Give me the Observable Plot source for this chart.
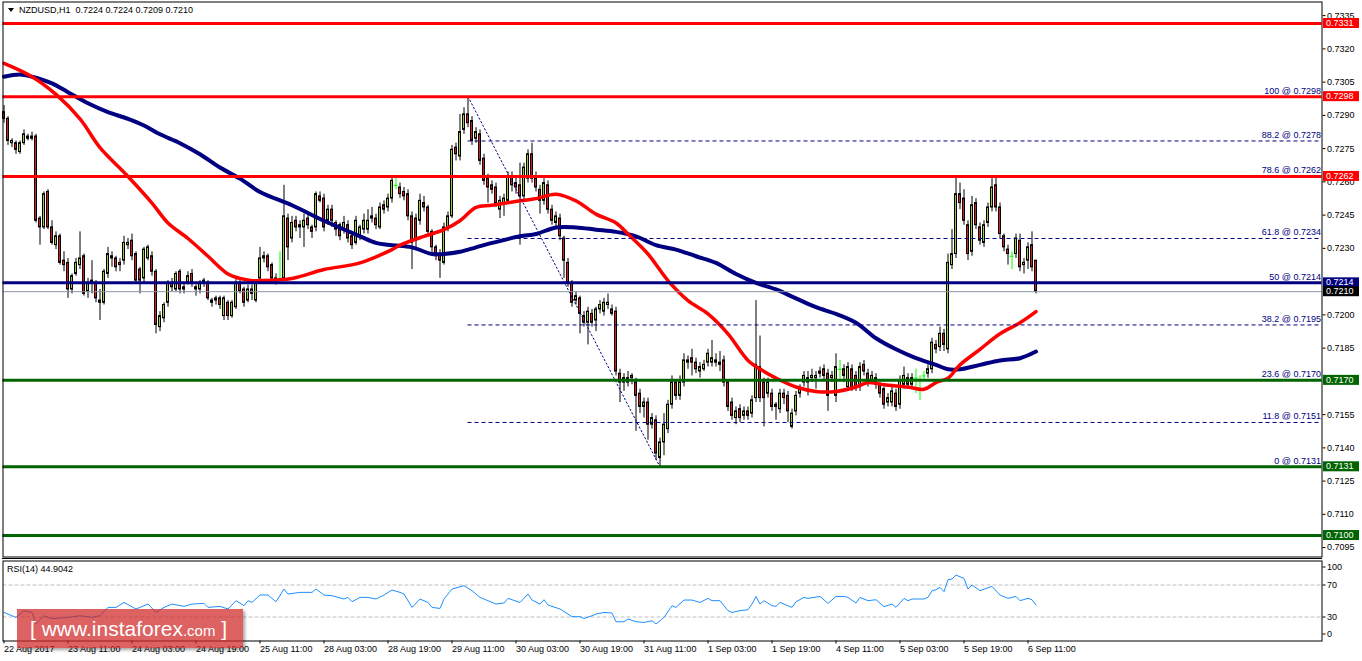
<!DOCTYPE html>
<html><head><meta charset="utf-8">
<script src="https://cdn.jsdelivr.net/npm/d3@7"></script>
<script src="https://cdn.jsdelivr.net/npm/@observablehq/plot@0.6"></script>
<style>
html,body{margin:0;padding:0;background:#fff;}
#wrap{position:relative;width:1362px;height:661px;overflow:hidden;font-family:"Liberation Sans",Arial,sans-serif;}
#main{position:absolute;left:0;top:0;}
#rsi{position:absolute;left:0;top:558px;}
#sep{position:absolute;left:2px;top:558px;width:1320px;height:1px;background:#000;}
#title{position:absolute;left:8px;top:5px;font-size:9px;line-height:11px;color:#000;white-space:pre;}
#title .tri{display:inline-block;width:0;height:0;border-left:3px solid transparent;border-right:3px solid transparent;border-top:4px solid #000;margin-right:5px;vertical-align:1px;}
#rsilab{position:absolute;left:7px;top:564px;font-size:9px;line-height:11px;color:#000;}
#wm{position:absolute;left:17px;top:609px;width:226px;height:39px;background:rgba(208,38,38,0.72);box-shadow:2px 2px 3px rgba(0,0,0,0.35);color:#fff;line-height:39px;white-space:nowrap;padding-left:13px;box-sizing:border-box;}
#wm .b{font-size:21px;}
#wm .m{font-size:21px;}
#wm .c{font-size:15px;}
</style></head><body>
<div id="wrap">
<div id="main"></div>
<div id="rsi"></div>
<div id="sep"></div>
<div id="title"><span class="tri"></span>NZDUSD,H1  0.7224 0.7224 0.7209 0.7210</div>
<div id="rsilab">RSI(14) 44.9042</div>
<div id="wm"><span class="b">[ </span><span class="m">www.instaforex</span><span class="c">.com</span><span class="b"> ]</span></div>
</div>
<script>
// ---- hourly candles (bar index 0 = 22 Aug 19:00) ----
const O = [
.7291,.7288,.7277,.7277,.7273,.7277,.7280,.7279,.7280,.7243,
.7239,.7255,.7239,.7231,.7235,.7224,.7223,.7211,.7218,.7222,
.7226,.7210,.7215,.7214,.7206,.7205,.7218,.7225,.7225,.7223,
.7224,.7231,.7233,.7227,.7220,.7216,.7225,.7226,.7219,.7194,
.7198,.7205,.7214,.7211,.7219,.7211,.7214,.7218,.7212,.7211,
.7215,.7214,.7206,.7206,.7207,.7199,.7205,.7199,.7203,.7214,
.7211,.7206,.7211,.7206,.7216,.7226,.7226,.7222,.7216,.7216,
.7216,.7243,.7234,.7242,.7239,.7239,.7243,.7239,.7239,.7253,
.7252,.7242,.7247,.7241,.7240,.7238,.7240,.7235,.7232,.7235,
.7238,.7238,.7243,.7243,.7239,.7249,.7248,.7252,.7258,.7257,
.7255,.7254,.7244,.7243,.7242,.7250,.7248,.7237,.7230,.7227,
.7223,.7239,.7244,.7275,.7271,.7283,.7290,.7287,.7279,.7281,
.7270,.7261,.7258,.7257,.7247,.7250,.7251,.7262,.7259,.7258,
.7253,.7261,.7272,.7261,.7256,.7251,.7258,.7247,.7241,.7243,
.7234,.7223,.7214,.7206,.7207,.7199,.7196,.7200,.7197,.7202,
.7201,.7204,.7202,.7201,.7173,.7171,.7169,.7172,.7169,.7164,
.7158,.7160,.7150,.7152,.7135,.7142,.7148,.7159,.7169,.7163,
.7169,.7178,.7180,.7178,.7174,.7175,.7178,.7178,.7179,.7178,
.7179,.7169,.7160,.7153,.7157,.7154,.7156,.7155,.7162,.7176,
.7169,.7164,.7164,.7159,.7157,.7164,.7163,.7149,.7156,.7164,
.7169,.7171,.7171,.7171,.7173,.7175,.7173,.7171,.7163,.7175,
.7175,.7167,.7175,.7172,.7167,.7177,.7173,.7170,.7171,.7168,
.7166,.7160,.7160,.7164,.7159,.7168,.7171,.7168,.7171,.7170,
.7172,.7173,.7175,.7186,.7185,.7191,.7184,.7222,.7227,.7254,
.7252,.7240,.7228,.7250,.7239,.7232,.7241,.7248,.7258,.7248,
.7235,.7229,.7226,.7227,.7233,.7222,.7224,.7231,.7224];
const H = [
.7294,.7289,.7279,.7278,.7278,.7283,.7281,.7282,.7281,.7244,
.7255,.7256,.7242,.7237,.7236,.7228,.7225,.7218,.7225,.7237,
.7227,.7216,.7224,.7215,.7211,.7220,.7230,.7228,.7226,.7225,
.7235,.7234,.7236,.7228,.7221,.7230,.7231,.7228,.7220,.7201,
.7205,.7215,.7216,.7219,.7220,.7214,.7219,.7220,.7213,.7215,
.7216,.7215,.7207,.7208,.7208,.7208,.7206,.7206,.7216,.7216,
.7212,.7213,.7213,.7215,.7230,.7228,.7227,.7223,.7218,.7228,
.7258,.7245,.7244,.7244,.7242,.7245,.7246,.7240,.7255,.7255,
.7254,.7249,.7249,.7242,.7241,.7244,.7242,.7236,.7244,.7240,
.7245,.7247,.7248,.7245,.7250,.7251,.7254,.7262,.7261,.7259,
.7257,.7256,.7246,.7245,.7254,.7253,.7249,.7238,.7231,.7229,
.7241,.7246,.7276,.7277,.7290,.7293,.7298,.7289,.7284,.7283,
.7272,.7263,.7260,.7259,.7253,.7254,.7264,.7264,.7262,.7268,
.7268,.7274,.7277,.7264,.7258,.7261,.7260,.7249,.7246,.7245,
.7235,.7225,.7215,.7210,.7208,.7201,.7203,.7202,.7203,.7206,
.7207,.7209,.7204,.7203,.7175,.7173,.7174,.7173,.7171,.7166,
.7162,.7162,.7155,.7154,.7144,.7155,.7161,.7172,.7170,.7172,
.7182,.7181,.7184,.7180,.7178,.7179,.7184,.7188,.7182,.7183,
.7181,.7170,.7162,.7158,.7159,.7158,.7158,.7163,.7206,.7190,
.7171,.7171,.7166,.7160,.7166,.7166,.7165,.7157,.7165,.7168,
.7174,.7174,.7175,.7174,.7176,.7177,.7175,.7174,.7182,.7179,
.7177,.7178,.7177,.7174,.7178,.7179,.7175,.7174,.7173,.7169,
.7167,.7164,.7167,.7166,.7172,.7176,.7173,.7173,.7175,.7172,
.7174,.7177,.7189,.7188,.7194,.7193,.7227,.7238,.7262,.7259,
.7256,.7242,.7253,.7252,.7241,.7242,.7250,.7261,.7262,.7250,
.7236,.7231,.7228,.7236,.7236,.7225,.7232,.7237,.7224];
const L = [
.7286,.7276,.7275,.7272,.7272,.7276,.7278,.7278,.7241,.7231,
.7238,.7238,.7231,.7229,.7222,.7219,.7207,.7209,.7217,.7220,
.7208,.7207,.7209,.7205,.7197,.7204,.7216,.7221,.7219,.7219,
.7222,.7229,.7224,.7214,.7209,.7214,.7224,.7217,.7191,.7192,
.7196,.7203,.7210,.7210,.7209,.7209,.7213,.7212,.7208,.7209,
.7212,.7206,.7203,.7204,.7202,.7197,.7197,.7198,.7202,.7209,
.7203,.7205,.7206,.7205,.7214,.7223,.7219,.7215,.7213,.7214,
.7215,.7224,.7232,.7237,.7234,.7230,.7238,.7234,.7237,.7250,
.7237,.7240,.7239,.7235,.7233,.7236,.7232,.7229,.7231,.7233,
.7236,.7236,.7241,.7238,.7238,.7245,.7246,.7250,.7256,.7252,
.7251,.7242,.7220,.7230,.7240,.7246,.7235,.7227,.7224,.7216,
.7222,.7237,.7243,.7269,.7269,.7281,.7284,.7276,.7277,.7267,
.7258,.7250,.7254,.7248,.7243,.7244,.7250,.7255,.7254,.7231,
.7251,.7259,.7259,.7255,.7245,.7249,.7245,.7240,.7239,.7233,
.7216,.7212,.7203,.7204,.7191,.7194,.7186,.7194,.7192,.7200,
.7199,.7202,.7199,.7172,.7160,.7165,.7167,.7168,.7147,.7155,
.7153,.7143,.7148,.7134,.7131,.7136,.7146,.7157,.7161,.7161,
.7167,.7175,.7172,.7173,.7171,.7174,.7176,.7176,.7176,.7174,
.7167,.7156,.7152,.7150,.7151,.7152,.7152,.7153,.7160,.7160,
.7149,.7162,.7156,.7152,.7155,.7159,.7151,.7148,.7154,.7162,
.7167,.7163,.7169,.7166,.7171,.7170,.7156,.7169,.7160,.7170,
.7169,.7165,.7165,.7165,.7165,.7172,.7167,.7168,.7166,.7162,
.7157,.7158,.7158,.7156,.7157,.7166,.7166,.7166,.7164,.7161,
.7170,.7171,.7173,.7182,.7183,.7183,.7182,.7220,.7225,.7247,
.7240,.7224,.7226,.7238,.7231,.7230,.7239,.7246,.7246,.7234,
.7228,.7222,.7220,.7225,.7219,.7218,.7220,.7219,.7209];
const C = [
.7288,.7278,.7278,.7274,.7277,.7281,.7279,.7280,.7242,.7239,
.7254,.7239,.7232,.7235,.7223,.7222,.7211,.7217,.7223,.7225,
.7209,.7214,.7214,.7207,.7205,.7219,.7227,.7226,.7221,.7222,
.7232,.7232,.7226,.7215,.7215,.7229,.7230,.7219,.7195,.7199,
.7204,.7214,.7212,.7218,.7211,.7212,.7217,.7214,.7211,.7214,
.7214,.7207,.7205,.7207,.7204,.7207,.7199,.7205,.7214,.7210,
.7205,.7211,.7209,.7214,.7225,.7225,.7221,.7216,.7215,.7216,
.7244,.7230,.7241,.7239,.7240,.7242,.7240,.7237,.7254,.7251,
.7239,.7247,.7242,.7238,.7235,.7241,.7234,.7231,.7242,.7239,
.7242,.7242,.7244,.7240,.7248,.7247,.7252,.7260,.7258,.7254,
.7253,.7244,.7232,.7233,.7251,.7248,.7237,.7230,.7226,.7224,
.7239,.7244,.7274,.7272,.7282,.7290,.7286,.7278,.7282,.7269,
.7260,.7257,.7256,.7250,.7251,.7252,.7262,.7258,.7257,.7253,
.7266,.7272,.7261,.7257,.7251,.7259,.7247,.7242,.7244,.7235,
.7224,.7214,.7205,.7208,.7200,.7196,.7201,.7196,.7202,.7204,
.7205,.7205,.7200,.7174,.7169,.7169,.7171,.7171,.7163,.7158,
.7160,.7150,.7153,.7137,.7142,.7150,.7159,.7169,.7163,.7169,
.7179,.7179,.7178,.7175,.7176,.7177,.7182,.7180,.7178,.7177,
.7169,.7158,.7154,.7156,.7153,.7156,.7154,.7161,.7177,.7162,
.7162,.7169,.7158,.7158,.7164,.7162,.7156,.7155,.7163,.7166,
.7172,.7169,.7172,.7172,.7174,.7172,.7163,.7172,.7176,.7175,
.7172,.7176,.7167,.7167,.7176,.7174,.7169,.7172,.7168,.7164,
.7159,.7162,.7165,.7158,.7170,.7172,.7168,.7171,.7171,.7170,
.7172,.7175,.7187,.7184,.7191,.7186,.7223,.7227,.7254,.7250,
.7242,.7227,.7249,.7240,.7233,.7240,.7248,.7257,.7248,.7236,
.7230,.7227,.7226,.7234,.7221,.7223,.7230,.7221,.7210];

// ---- moving averages (read at sample bars) ----
const maRedIdx = [0,7,13,19,24,31,37,41,46,51,56,59,62,64,72,80,89,97,99,105,110,114,118,122,129,133,138,143,148,153,156,161,166,171,176,181,186,190,193,198,203,208,213,216,220,226,230,233,236,239,244,249,254,258];
const maRedVal = [.7313,.7307,.7299,.7288,.7275,.7262,.7250,.7241,.7234,.7226,.7218,.7216,.7215,.7215,.7216,.7220,.7223,.7229,.7231,.7235,.7238,.7242,.7248,.7249,.7251,.7252,.7254,.7251,.7245,.7241,.7236,.7227,.7215,.7206,.7200,.7191,.7179,.7174,.7171,.7167,.7165,.7165,.7167,.7169,.7168,.7167,.7166,.7169,.7171,.7177,.7184,.7191,.7196,.7201];
const maNavyIdx = [0,4,7,12,16,21,26,31,35,39,44,49,54,59,64,72,80,89,93,97,102,107,110,114,118,122,129,133,138,143,148,153,158,163,168,173,178,183,188,193,198,203,208,213,218,223,228,233,236,239,244,249,254,258];
const maNavyVal = [.7307,.7308,.7307,.7304,.7300,.7295,.7291,.7288,.7285,.7281,.7277,.7272,.7266,.7261,.7255,.7249,.7242,.7235,.7232,.7231,.7230,.7227,.7227,.7228,.7230,.7232,.7235,.7236,.7239,.7239,.7238,.7237,.7235,.7231,.7229,.7226,.7223,.7218,.7214,.7211,.7207,.7203,.7200,.7196,.7189,.7184,.7180,.7177,.7175,.7175,.7177,.7179,.7180,.7183];

// ---- RSI(14) read at sample bars ----
const rsiIdx = [0,3,5,7,8,10,12,16,19,22,24,26,28,30,33,36,38,40,42,45,47,50,51,54,56,58,60,61,62,64,66,68,70,71,74,77,78,80,82,85,86,87,89,91,93,95,97,99,100,102,104,106,107,109,110,112,115,117,119,121,123,125,126,129,131,132,134,135,136,139,142,144,145,147,148,150,152,153,155,156,158,160,162,163,165,167,168,170,172,174,176,177,179,181,182,184,186,187,188,189,190,192,193,194,197,198,200,201,204,206,208,210,211,213,214,216,218,220,222,223,225,226,227,230,231,232,233,234,235,236,237,238,240,241,242,244,247,249,251,253,254,256,257,258];
const rsiVal = [35.7,29.5,37.9,35.7,21.6,31.6,27.9,29.5,31.6,29.5,31.6,42,42,48.2,40,46.2,35.7,42,46.2,43.3,46.2,47,42,43.3,40,50.4,44.1,50.4,48.2,57.5,57.5,49.1,65,58.7,60.8,60.8,65,57.5,56.6,52.5,54.5,49.1,54.5,54.5,52.5,57.5,63.7,60.8,58.7,42,52.5,48.2,42,40.7,52.5,65,69.1,62.9,54.5,50.4,46.2,47.5,53.3,48.2,58.7,51.2,46.2,51.6,45,40,30.4,30.4,28.2,31.6,33.7,35.7,35,24.1,24.1,27.5,24.1,23.2,25.4,21.2,29.5,44.1,42,51.2,51.2,48.2,53.3,50.4,50.4,37.9,35.7,37.9,39.1,46.2,55.7,46.2,50.4,44.1,43.3,48.2,42,49.1,54.5,53.3,55.7,47,55.7,55.7,54.5,47.5,54.5,50.4,51.6,42.9,46.2,42,53.3,50.4,52.5,52.5,54.5,62.9,64.1,67,61.6,76.6,77.5,82.5,78.2,65,70,62.9,68.3,57.5,53.3,55.7,50.4,53.3,51.6,44.9];

// ---- levels, fibonacci, ticks ----
const resistance = [0.7331, 0.7298, 0.7262];
const pivot = [0.7214];
const support = [0.7170, 0.7131, 0.7100];
const lastPrice = [0.7210];
const fibPct = ["100","88.2","78.6","61.8","50","38.2","23.6","11.8","0"];
const fibVal = [0.7298,0.7278,0.7262,0.7234,0.7214,0.7195,0.7170,0.7151,0.7131];
const fibHighBar = 116, fibLowBar = 164;
const priceTicks = [0.7335,0.7320,0.7305,0.7290,0.7275,0.7260,0.7245,0.7230,0.7200,0.7185,0.7155,0.7140,0.7125,0.7110,0.7095];
const timeTickIdx = [0,16,32,48,64,80,96,112,128,144,160,176,192,208,224,240,256];
const timeTickText = ["22 Aug 2017","23 Aug 11:00","24 Aug 03:00","24 Aug 19:00","25 Aug 11:00","28 Aug 03:00","28 Aug 19:00","29 Aug 11:00","30 Aug 03:00","30 Aug 19:00","31 Aug 11:00","1 Sep 03:00","1 Sep 19:00","4 Sep 11:00","5 Sep 03:00","5 Sep 19:00","6 Sep 11:00"];
const rsiLevels = [70, 30];

// ---- build tables ----
const bars = O.map((o, i) => ({i, o, h: H[i], l: L[i], c: C[i]}));
const bodies = bars.filter(d => d.o !== d.c);
const dojis = bars.filter(d => d.o === d.c);
const maRed = maRedIdx.map((i, k) => ({i, v: maRedVal[k]}));
const maNavy = maNavyIdx.map((i, k) => ({i, v: maNavyVal[k]}));
const rsi = rsiIdx.map((i, k) => ({i, v: rsiVal[k]}));
const fib = fibVal.map((v, k) => ({v, t: fibPct[k] + " @ " + v.toFixed(4)}));
const trend = [{i: fibHighBar, v: fibVal[0]}, {i: fibLowBar, v: fibVal[fibVal.length - 1]}];

const RED = "#ff0000", NAVY = "#000080", GREEN = "#006400";
const UP = "#9acd32", DOWN = "#d41c1c", DOJI = "#00ff00";
const FONT = '"Liberation Sans", Arial, sans-serif';
const xDomain = [-0.25, 329.5];

const boxes = [
  ...resistance.map(v => ({v, bg: RED})),
  ...pivot.map(v => ({v, bg: NAVY})),
  ...lastPrice.map(v => ({v, bg: "#000000"})),
  ...support.map(v => ({v, bg: GREEN}))
];

function boxMark(index, scales, values, dims) {
  const g = d3.create("svg:g").attr("text-anchor", "start");
  const x0 = dims.width - dims.marginRight + 1.5;
  for (const b of boxes) {
    const y = scales.y(b.v);
    g.append("rect").attr("x", x0).attr("y", y - 5).attr("width", 36).attr("height", 10).attr("fill", b.bg);
    g.append("text").attr("x", x0 + 3).attr("y", y).attr("dy", "0.35em").attr("text-anchor", "start")
      .attr("fill", "#fff").attr("font-size", 9).attr("font-family", FONT).text(b.v.toFixed(4));
  }
  return g.node();
}

const main = Plot.plot({
  width: 1362, height: 559,
  marginLeft: 2.5, marginRight: 40.5, marginTop: 1.5, marginBottom: 2.5,
  style: {fontFamily: FONT, fontSize: "9px", background: "white", color: "black", overflow: "visible"},
  x: {domain: xDomain, axis: null},
  y: {domain: [0.709031, 0.73407]},
  marks: [
    Plot.ruleX(bars, {x: "i", y1: "l", y2: "h", stroke: d => d.o === d.c ? DOJI : "#000000", strokeWidth: 1}),
    Plot.rect(bodies, {x1: d => d.i - 0.25, x2: d => d.i + 0.25, y1: "o", y2: "c", fill: d => d.c > d.o ? UP : DOWN, stroke: "#000000", strokeWidth: 1}),
    Plot.ruleY(dojis, {y: "o", x1: d => d.i - 0.5, x2: d => d.i + 0.5, stroke: DOJI}),
    Plot.line(maNavy, {x: "i", y: "v", stroke: NAVY, strokeWidth: 4, curve: "catmull-rom"}),
    Plot.line(maRed, {x: "i", y: "v", stroke: RED, strokeWidth: 3.5, curve: "catmull-rom"}),
    Plot.ruleY(fib, {y: "v", x1: fibHighBar, x2: xDomain[1], stroke: NAVY, strokeDasharray: "4,3", strokeWidth: 1}),
    Plot.line(trend, {x: "i", y: "v", stroke: NAVY, strokeDasharray: "1.5,2.5", strokeWidth: 1}),
    Plot.ruleY(resistance, {stroke: RED, strokeWidth: 3}),
    Plot.ruleY(pivot, {stroke: NAVY, strokeWidth: 3}),
    Plot.ruleY(support, {stroke: GREEN, strokeWidth: 3}),
    Plot.ruleY(lastPrice, {stroke: "#8a96a2", strokeWidth: 1}),
    Plot.text(fib, {y: "v", text: "t", frameAnchor: "right", textAnchor: "end", dx: -1, dy: -6, fill: NAVY, fontSize: 9}),
    Plot.frame({stroke: "#000"}),
    Plot.axisY({anchor: "right", ticks: priceTicks, tickFormat: d => d.toFixed(4), tickSize: 3, tickPadding: 2, dy: 1, label: null}),
    boxMark
  ]
});
document.getElementById("main").appendChild(main);

const tickMap = new Map(timeTickIdx.map((t, k) => [t, timeTickText[k]]));
const rsiPlot = Plot.plot({
  width: 1362, height: 103,
  marginLeft: 2.5, marginRight: 40.5, marginTop: 2.5, marginBottom: 20.5,
  style: {fontFamily: FONT, fontSize: "9px", background: "white", color: "black", overflow: "visible"},
  x: {domain: xDomain},
  y: {domain: [0, 100]},
  marks: [
    Plot.ruleY(rsiLevels, {stroke: "#c0c0c0", strokeDasharray: "4,2"}),
    Plot.line(rsi, {x: "i", y: "v", stroke: "#1e90ff", strokeWidth: 1}),
    Plot.frame({stroke: "#000"}),
    Plot.axisX({anchor: "bottom", ticks: timeTickIdx, tickFormat: d => tickMap.get(d), tickSize: 3, tickPadding: 2, textAnchor: "start", label: null}),
    Plot.axisY({anchor: "right", ticks: rsiLevels, tickSize: 3, tickPadding: 2, label: null}),
    Plot.axisY({anchor: "right", ticks: [100], tickSize: 3, tickPadding: 2, dy: 6, label: null}),
    Plot.axisY({anchor: "right", ticks: [0], tickSize: 3, tickPadding: 2, dy: -7, label: null})
  ]
});
document.getElementById("rsi").appendChild(rsiPlot);
</script>
</body></html>
